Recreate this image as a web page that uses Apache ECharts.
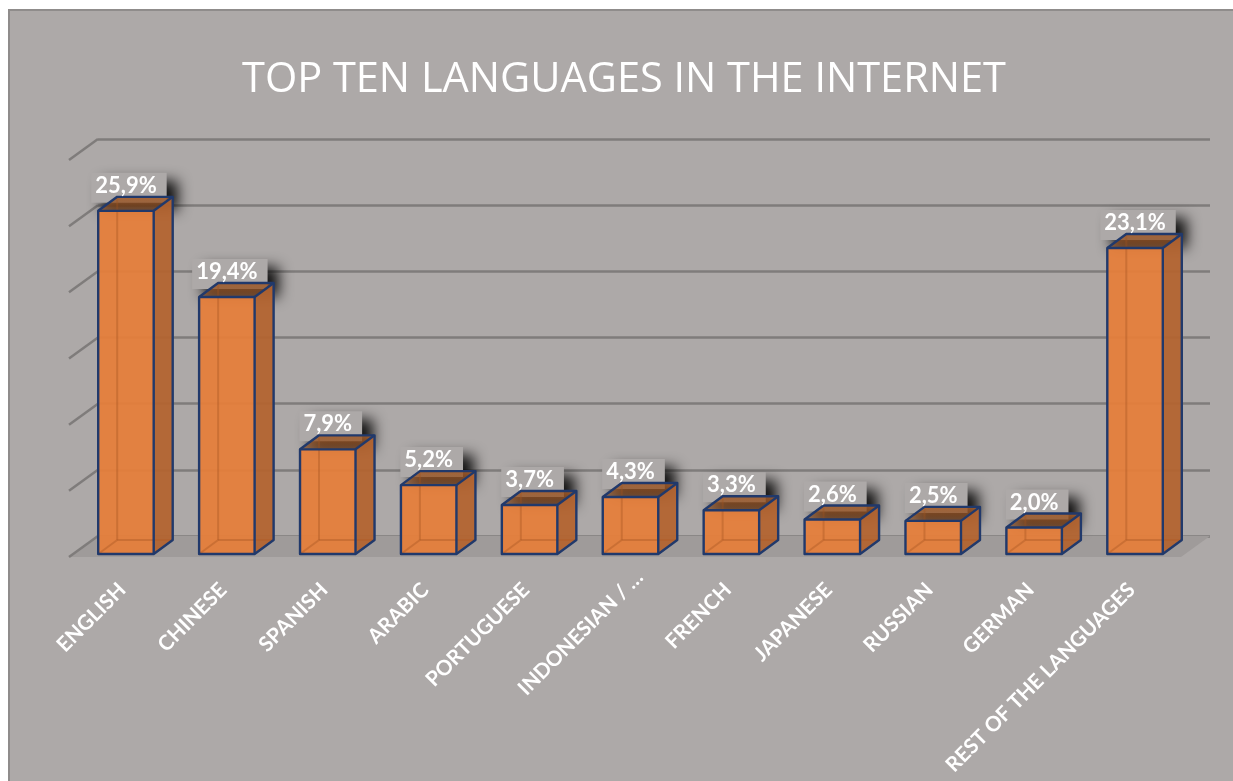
<!DOCTYPE html>
<html>
<head>
<meta charset="utf-8">
<style>html,body{margin:0;padding:0;background:#fff}#chart{width:1233px;height:781px}</style>
<script src="https://cdn.jsdelivr.net/npm/echarts@6/dist/echarts.min.js"></script>
</head>
<body>
<div id="chart"></div>
<script>
const titleText = 'TOP TEN LANGUAGES IN THE INTERNET';
const languages = ['ENGLISH', 'CHINESE', 'SPANISH', 'ARABIC', 'PORTUGUESE', 'INDONESIAN / …', 'FRENCH', 'JAPANESE', 'RUSSIAN', 'GERMAN', 'REST OF THE LANGUAGES'];
const shares = [25.9, 19.4, 7.9, 5.2, 3.7, 4.3, 3.3, 2.6, 2.5, 2.0, 23.1];
const gridValues = [0, 5, 10, 15, 20, 25, 30];

const FONT = 'Lato, "Open Sans", sans-serif';
const PANEL = '#ada9a8';
const GRID_LINE = '#7f7c7b';
const EDGE = '#21396b';
// Extrusion of a bar and of the floor, in pixels.
const BAR_DX = 19, BAR_DY = -14;
const FLOOR_DX = 29, FLOOR_DY = -21;

const fmt = v => v.toFixed(1).replace('.', ',') + '%';
const measure = document.createElement('canvas').getContext('2d');
measure.font = 'bold 22px ' + FONT;

const chart = echarts.init(document.getElementById('chart'), null, { renderer: 'canvas' });

// Back wall: horizontal rules come from the axis, the slanted side wall from here.
function renderWall(params, api) {
  const p = api.coord([0, api.value(0)]);
  return {
    type: 'line',
    shape: { x1: p[0], y1: p[1], x2: p[0] - FLOOR_DX, y2: p[1] - FLOOR_DY },
    style: { stroke: GRID_LINE, lineWidth: 2.5 }
  };
}

function renderFloor(params, api) {
  const a = api.coord([0, 0]);
  const b = api.coord([1, 0]);
  return {
    type: 'polygon',
    shape: { points: [a, b, [b[0] - FLOOR_DX, b[1] - FLOOR_DY], [a[0] - FLOOR_DX, a[1] - FLOOR_DY]] },
    style: { fill: '#9f9b9a' }
  };
}

// Plate behind each value label, with its soft drop shadow.
function renderPlate(params, api) {
  const p = api.coord([api.value(0), api.value(1)]);
  const w = measure.measureText(fmt(api.value(1))).width + 8;
  return {
    type: 'rect',
    shape: { x: p[0] - w / 2, y: p[1] - 38, width: w + 6, height: 30 },
    style: {
      fill: PANEL,
      shadowColor: 'rgba(0,0,0,0.9)',
      shadowBlur: 14,
      shadowOffsetX: 11,
      shadowOffsetY: 8
    }
  };
}

function renderBar(params, api) {
  const top = api.coord([api.value(0), api.value(1)]);
  const base = api.coord([api.value(0), 0]);
  const w = api.size([1, 0])[0] * 0.55;
  const l = top[0] - w / 2, r = top[0] + w / 2, t = top[1], b = base[1];
  const inner = { stroke: 'rgba(176,92,38,0.45)', lineWidth: 2 };
  const edge = { fill: null, stroke: EDGE, lineWidth: 2.4, lineJoin: 'round' };
  const topFill = {
    type: 'linear', x: 0, y: 0, x2: 0, y2: 1,
    colorStops: [
      { offset: 0, color: 'rgba(165,92,40,0.9)' },
      { offset: 1, color: 'rgba(125,68,28,0.6)' }
    ]
  };
  return {
    type: 'group',
    children: [
      { type: 'polygon', shape: { points: [[r, t], [r + BAR_DX, t + BAR_DY], [r + BAR_DX, b + BAR_DY], [r, b]] },
        style: { fill: 'rgba(180,100,48,0.94)' } },
      { type: 'rect', shape: { x: l, y: t, width: w, height: b - t },
        style: { fill: 'rgba(230,126,58,0.94)' } },
      { type: 'line', shape: { x1: l + BAR_DX, y1: t + BAR_DY, x2: l + BAR_DX, y2: b + BAR_DY }, style: inner },
      { type: 'line', shape: { x1: l + BAR_DX, y1: b + BAR_DY, x2: r + BAR_DX, y2: b + BAR_DY }, style: inner },
      { type: 'line', shape: { x1: l, y1: b, x2: l + BAR_DX, y2: b + BAR_DY }, style: inner },
      { type: 'polygon', shape: { points: [[l, t], [l + BAR_DX, t + BAR_DY], [r + BAR_DX, t + BAR_DY], [r, t]] },
        style: { fill: topFill } },
      { type: 'polygon', shape: { points: [[l, t], [l + BAR_DX, t + BAR_DY], [r + BAR_DX, t + BAR_DY], [r + BAR_DX, b + BAR_DY], [r, b], [l, b]] }, style: edge },
      { type: 'polyline', shape: { points: [[l, t], [r, t], [r, b]] }, style: edge },
      { type: 'line', shape: { x1: r, y1: t, x2: r + BAR_DX, y2: t + BAR_DY }, style: edge }
    ]
  };
}

function renderValue(params, api) {
  const p = api.coord([api.value(0), api.value(1)]);
  return {
    type: 'text',
    style: {
      x: p[0], y: p[1] - 25,
      text: fmt(api.value(1)),
      fill: '#ffffff',
      font: 'bold 22px ' + FONT,
      align: 'center', verticalAlign: 'middle'
    }
  };
}

const barData = shares.map((v, i) => [i, v]);

// The truncated label sits further along its slant than the others.
const categoryData = languages.map(name => name.endsWith('…')
  ? { value: name, textStyle: { padding: [0, -13, 0, 0] } }
  : name);

chart.setOption({
  animation: false,
  backgroundColor: '#ffffff',
  title: {
    text: titleText,
    left: 619, top: 54, textAlign: 'center',
    textStyle: { color: '#ffffff', fontFamily: '"Open Sans", Lato, sans-serif', fontSize: 41.5, fontWeight: 400 }
  },
  graphic: [{
    type: 'rect', z: -10,
    shape: { x: 9, y: 10, width: 1240, height: 790 },
    style: { fill: PANEL, stroke: '#8f8c8b', lineWidth: 2 }
  }],
  grid: [
    { left: 75.5, width: 1110, top: 156.5, height: 397.5 },
    { left: 98, width: 1112, top: 139, height: 397 }
  ],
  xAxis: [
    {
      type: 'category', gridIndex: 0, data: categoryData,
      axisLine: { show: false }, axisTick: { show: false }, splitLine: { show: false },
      axisLabel: {
        rotate: 45, margin: 29, interval: 0, color: '#ffffff', padding: [0, 5, 0, 0],
        fontFamily: FONT, fontSize: 20.8, fontWeight: 'bold'
      }
    },
    { type: 'value', gridIndex: 1, min: 0, max: 1, show: false, splitLine: { show: false } }
  ],
  yAxis: [
    { type: 'value', gridIndex: 0, min: 0, max: 30, interval: 5, show: false, splitLine: { show: false } },
    {
      type: 'value', gridIndex: 1, min: 0, max: 30, interval: 5,
      axisLine: { show: false }, axisTick: { show: false }, axisLabel: { show: false },
      splitLine: { show: true, lineStyle: { color: GRID_LINE, width: 2.5 } }
    }
  ],
  series: [
    { type: 'custom', name: 'floor', xAxisIndex: 1, yAxisIndex: 1, z: 1, silent: true, clip: false,
      renderItem: renderFloor, data: [[0]], encode: { x: [], y: [] } },
    { type: 'custom', name: 'wall', xAxisIndex: 1, yAxisIndex: 1, z: 1, silent: true, clip: false,
      renderItem: renderWall, data: gridValues.map(v => [v]), encode: { y: 0, x: [] } },
    { type: 'custom', name: 'plates', xAxisIndex: 0, yAxisIndex: 0, z: 3, silent: true, clip: false,
      renderItem: renderPlate, data: barData, encode: { x: 0, y: 1 } },
    { type: 'custom', name: 'bars', xAxisIndex: 0, yAxisIndex: 0, z: 4, silent: true, clip: false,
      renderItem: renderBar, data: barData, encode: { x: 0, y: 1 } },
    { type: 'custom', name: 'values', xAxisIndex: 0, yAxisIndex: 0, z: 5, silent: true, clip: false,
      renderItem: renderValue, data: barData, encode: { x: 0, y: 1 } }
  ]
});
</script>
</body>
</html>
